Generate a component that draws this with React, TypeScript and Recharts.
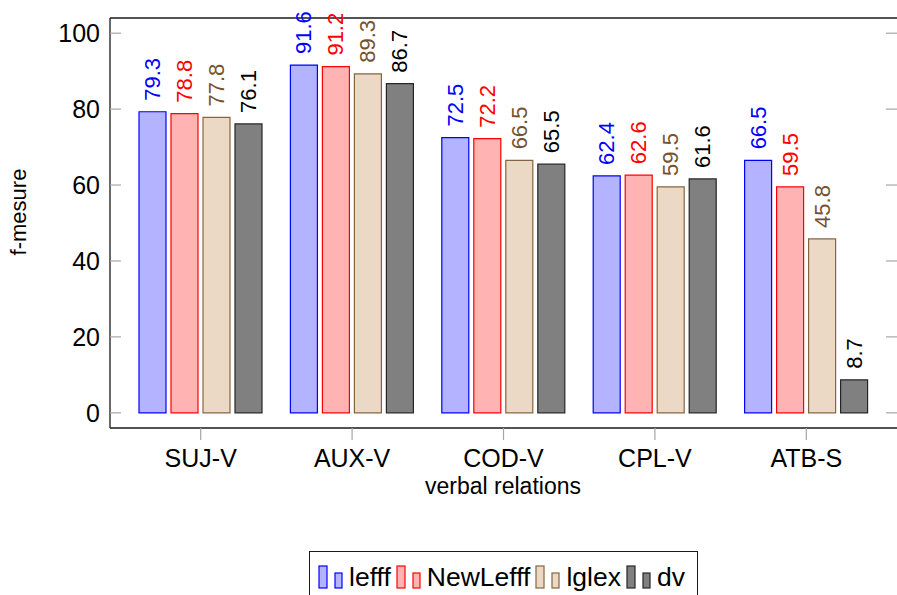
import { Bar, BarChart, LabelList, XAxis, YAxis } from 'recharts'

const categories = ['SUJ-V', 'AUX-V', 'COD-V', 'CPL-V', 'ATB-S']
const lefff = [79.3, 91.6, 72.5, 62.4, 66.5]
const newLefff = [78.8, 91.2, 72.2, 62.6, 59.5]
const lglex = [77.8, 89.3, 66.5, 59.5, 45.8]
const dv = [76.1, 86.7, 65.5, 61.6, 8.7]
const yTicks = [0, 20, 40, 60, 80, 100]

const data = categories.map((name, i) => ({
  name,
  lefff: lefff[i],
  NewLefff: newLefff[i],
  lglex: lglex[i],
  dv: dv[i],
}))

const series = [
  { key: 'lefff', fill: '#b3b3ff', stroke: '#0000ff', text: '#0000ff' },
  { key: 'NewLefff', fill: '#ffb3b3', stroke: '#ff0000', text: '#ff0000' },
  { key: 'lglex', fill: '#ebd9c6', stroke: '#86643f', text: '#75532f' },
  { key: 'dv', fill: '#808080', stroke: '#262626', text: '#000000' },
]

const FONT = '"Liberation Sans", Arial, Helvetica, sans-serif'
const AXIS = '#1a1a1a'
const TICK = '#a6a6a6'
const Y_DOMAIN = [-4, 104]
const PLOT_LEFT = 110
const PLOT_RIGHT = 897

const rotatedLabel = (color: string) => (props: any) => {
  const { x, y, width, value } = props
  const cx = Number(x) + Number(width) / 2
  const ty = Number(y) - 11
  return (
    <text
      x={cx}
      y={ty}
      transform={`rotate(-90 ${cx} ${ty})`}
      fill={color}
      fontSize={22}
      fontFamily={FONT}
      textAnchor="start"
      dominantBaseline="central"
    >
      {value}
    </text>
  )
}

// y tick: label outside, plus inward marks on both the left and the right frame
const YTick = (props: any) => {
  const { x, y, payload } = props
  return (
    <g>
      <line x1={PLOT_LEFT} x2={PLOT_LEFT + 11} y1={y} y2={y} stroke={TICK} strokeWidth={1.2} />
      <line x1={PLOT_RIGHT - 11} x2={PLOT_RIGHT} y1={y} y2={y} stroke={TICK} strokeWidth={1.2} />
      <text x={x} y={y} textAnchor="end" dominantBaseline="central" fontSize={25} fontFamily={FONT} fill="#000">
        {payload.value}
      </text>
    </g>
  )
}

function LegendIcon({ fill, stroke }: { fill: string; stroke: string }) {
  return (
    <svg width={26} height={26} style={{ display: 'block' }}>
      <rect x={1} y={2} width={8} height={22} fill={fill} stroke={stroke} strokeWidth={1.2} />
      <rect x={17} y={9} width={7} height={15} fill={fill} stroke={stroke} strokeWidth={1.2} />
    </svg>
  )
}

export default function App() {
  return (
    <div
      style={{
        position: 'absolute',
        left: 0,
        top: 0,
        width: 897,
        height: 595,
        overflow: 'hidden',
        fontFamily: FONT,
        background: '#fff',
      }}
    >
      <BarChart
        width={898}
        height={595}
        data={data}
        margin={{ top: 0, right: 1, bottom: 97, left: 0 }}
        barSize={27}
        barGap={5}
      >
        <XAxis
          dataKey="name"
          padding={{ left: 15, right: 15 }}
          height={70}
          tickSize={12}
          tickMargin={9}
          tickLine={{ stroke: TICK, strokeWidth: 1.2 }}
          axisLine={{ stroke: AXIS, strokeWidth: 1.3 }}
          tick={{ fontSize: 25, fill: '#000', fontFamily: FONT }}
          label={{
            content: () => (
              <text x={503} y={494} textAnchor="middle" fontSize={23} fontFamily={FONT} fill="#000">
                verbal relations
              </text>
            ),
          }}
        />
        <XAxis
          xAxisId="top"
          orientation="top"
          dataKey="name"
          padding={{ left: 15, right: 15 }}
          height={18}
          tickSize={12}
          tick={false}
          tickLine={{ stroke: TICK, strokeWidth: 1.2 }}
          axisLine={{ stroke: AXIS, strokeWidth: 1.3 }}
        />
        <YAxis
          type="number"
          domain={Y_DOMAIN}
          ticks={yTicks}
          allowDataOverflow
          width={110}
          tickSize={0}
          tickMargin={10}
          tickLine={false}
          axisLine={{ stroke: AXIS, strokeWidth: 1.3 }}
          tick={<YTick />}
          label={{
            content: () => (
              <text
                x={18}
                y={212}
                transform="rotate(-90 18 212)"
                textAnchor="middle"
                dominantBaseline="central"
                fontSize={22}
                fontFamily={FONT}
                fill="#000"
              >
                f-mesure
              </text>
            ),
          }}
        />
        {series.map((s) => (
          <Bar
            key={s.key}
            dataKey={s.key}
            fill={s.fill}
            stroke={s.stroke}
            strokeWidth={1.2}
            isAnimationActive={false}
          >
            <LabelList dataKey={s.key} content={rotatedLabel(s.text)} />
          </Bar>
        ))}
      </BarChart>
      <div
        style={{
          position: 'absolute',
          left: 309,
          top: 551,
          width: 389,
          height: 50,
          border: '1.5px solid #1a1a1a',
          boxSizing: 'border-box',
          display: 'flex',
          alignItems: 'center',
          paddingLeft: 8,
          paddingTop: 2,
          fontSize: 26.5,
          color: '#000',
          whiteSpace: 'nowrap',
        }}
      >
        {series.map((s) => (
          <div key={s.key} style={{ display: 'flex', alignItems: 'center', marginRight: 5 }}>
            <LegendIcon fill={s.fill} stroke={s.stroke} />
            <span style={{ marginLeft: 5, lineHeight: '28px' }}>{s.key}</span>
          </div>
        ))}
      </div>
    </div>
  )
}
